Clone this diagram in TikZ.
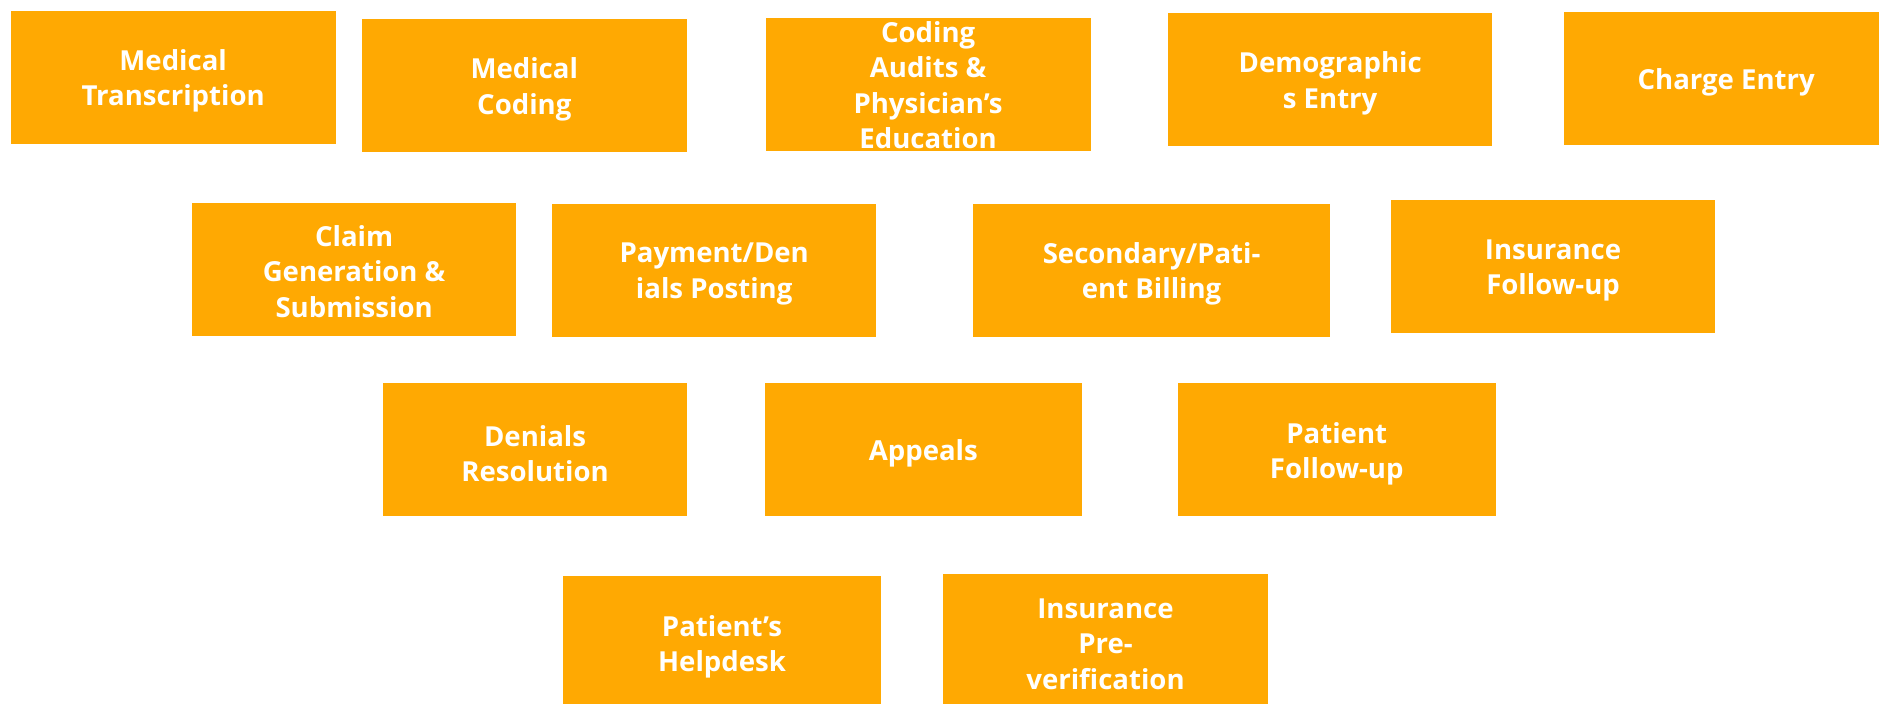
\documentclass[tikz,border=0pt]{standalone}
\usepackage{fontspec}
\setmainfont{Open Sans}
\definecolor{boxorange}{HTML}{FFA902}
\begin{document}
\begin{tikzpicture}[x=1pt,y=-1pt,
  box/.style={fill=boxorange, draw=none, inner sep=0pt, minimum height=111pt, minimum width=271pt},
  txt/.style={text=white, align=center, inner sep=0pt, font=\fontsize{23}{29.5}\selectfont\bfseries}]
\useasboundingbox (0,0) rectangle (1568,587);
\clip (0,0) rectangle (1568,587);
% row 1
\node[box] (mt) at (144.5,64.5) {};
\node[box] (mc) at (437.5,71.5) {};
\node[box] (ca) at (774.5,70.5) {};
\node[box, minimum width=270pt] (de) at (1110,66.5) {};
\node[box] (ce) at (1440.5,65.5) {};
% row 2
\node[box] (cg) at (295.5,224.5) {};
\node[box, minimum width=270pt] (pd) at (596,225.5) {};
\node[box, minimum width=298pt] (sb) at (961,225.5) {};
\node[box, minimum width=270pt] (if) at (1296,222.5) {};
% row 3
\node[box, minimum width=253pt] (dr) at (446.5,375.5) {};
\node[box, minimum width=265pt] (ap) at (770.5,375.5) {};
\node[box, minimum width=265pt] (pf) at (1115.5,375.5) {};
% row 4
\node[box, minimum width=265pt] (ph) at (602.5,536.5) {};
\node[box] (ip) at (922.5,534.5) {};
% texts
\node[txt] (mt-t) at ([yshift=-3pt]mt.center) {Medical\\Transcription};
\node[txt] (mc-t) at ([yshift=-3pt]mc.center) {Medical\\Coding};
\node[txt] (ca-t) at ([yshift=-0.5pt]ca.center) {Coding\\Audits \&\\Physician’s\\Education};
\node[txt] (de-t) at ([yshift=-3pt]de.center) {Demographic\\s Entry};
\node[txt] (ce-t) at ([yshift=-3pt]ce.center) {Charge Entry};
\node[txt] (cg-t) at ([yshift=-2pt]cg.center) {Claim\\Generation \&\\Submission};
\node[txt] (pd-t) at ([yshift=-3pt]pd.center) {Payment/Den\\ials Posting};
\node[txt] (sb-t) at ([yshift=-3pt]sb.center) {Secondary/Pati-\\ent Billing};
\node[txt] (if-t) at ([yshift=-3pt]if.center) {Insurance\\Follow-up};
\node[txt] (dr-t) at ([yshift=-3pt]dr.center) {Denials\\Resolution};
\node[txt] (ap-t) at ([yshift=-3pt]ap.center) {Appeals};
\node[txt] (pf-t) at ([yshift=-3pt]pf.center) {Patient\\Follow-up};
\node[txt] (ph-t) at ([yshift=-3pt]ph.center) {Patient’s\\Helpdesk};
\node[txt] (ip-t) at ([yshift=-3pt]ip.center) {Insurance\\Pre-\\verification};
\end{tikzpicture}
\end{document}
